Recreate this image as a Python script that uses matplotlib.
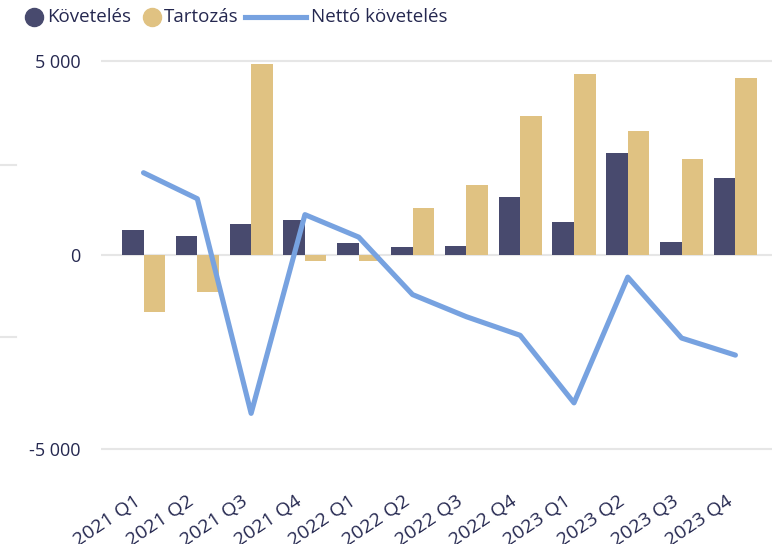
import numpy as np
import matplotlib
matplotlib.use("Agg")
import matplotlib.pyplot as plt
from matplotlib.lines import Line2D
from matplotlib.ticker import FuncFormatter
from matplotlib.transforms import ScaledTranslation

plt.rcParams['font.family'] = ['Open Sans', 'DejaVu Sans']

quarters = ["2021 Q1", "2021 Q2", "2021 Q3", "2021 Q4",
            "2022 Q1", "2022 Q2", "2022 Q3", "2022 Q4",
            "2023 Q1", "2023 Q2", "2023 Q3", "2023 Q4"]
kovetels = [650, 490, 800, 900, 310, 200, 230, 1500, 850, 2630, 335, 1985]
tartozas = [-1470, -950, 4920, -150, -150, 1210, 1800, 3580, 4665, 3200, 2470, 4560]
netto = [2120, 1450, -4080, 1040, 460, -1020, -1590, -2070, -3810, -570, -2140, -2580]

c_dark = "#484A6E"
c_gold = "#E0C282"
c_line = "#77A2E0"
c_text = "#252850"
c_grid = "#E6E6E6"

W, H = 772, 544
fig = plt.figure(figsize=(W / 100, H / 100), dpi=100)
ax = fig.add_axes([101 / W, 1 - 470 / H, 1 - 101 / W, 430 / H])

x = np.arange(len(quarters))
w = 0.4
ax.bar(x - w / 2, kovetels, width=w, color=c_dark, zorder=2)
ax.bar(x + w / 2, tartozas, width=w, color=c_gold, zorder=2)
ax.plot(x, netto, color=c_line, lw=3.7, solid_capstyle='round', zorder=3)

ax.set_xlim(-0.79, 11.68)
ax.set_ylim(-5540, 5540)
ax.set_yticks([-5000, 0, 5000])
ax.yaxis.set_major_formatter(FuncFormatter(lambda v, p: f"{int(v):,}".replace(",", " ")))
ax.grid(axis='y', color=c_grid, lw=1.5, zorder=0)
ax.set_axisbelow(True)
for s in ax.spines.values():
    s.set_visible(False)

ax.set_xticks(x)
ax.set_xticklabels(quarters, rotation=34, ha='right', va='top', rotation_mode='anchor')
ax.tick_params(axis='x', length=0, pad=16, labelsize=14, labelcolor=c_text)
ax.tick_params(axis='y', length=0, pad=15, labelsize=13, labelcolor=c_text)
shift = ScaledTranslation(-10 / 100, 0, fig.dpi_scale_trans)
for lab in ax.get_xticklabels():
    lab.set_transform(lab.get_transform() + shift)

# short grey stubs at the far left
for yy in [165, 337]:
    fig.add_artist(Line2D([0, 16 / W], [1 - yy / H, 1 - yy / H],
                          transform=fig.transFigure, color=c_grid, lw=1.5))

# legend drawn by hand
ly = 1 - 17 / H
fig.add_artist(Line2D([34 / W], [ly], marker='o', markersize=13, color=c_dark, ls='none'))
fig.text(47 / W, ly, "Követelés", fontsize=13.5, color=c_text, va='center')
fig.add_artist(Line2D([152 / W], [ly], marker='o', markersize=13, color=c_gold, ls='none'))
fig.text(164 / W, ly, "Tartozás", fontsize=13.5, color=c_text, va='center')
fig.add_artist(Line2D([245 / W, 306 / W], [ly, ly], color=c_line, lw=3.7))
fig.text(311 / W, ly, "Nettó követelés", fontsize=13.5, color=c_text, va='center')

fig.savefig("out.png", dpi=100)
